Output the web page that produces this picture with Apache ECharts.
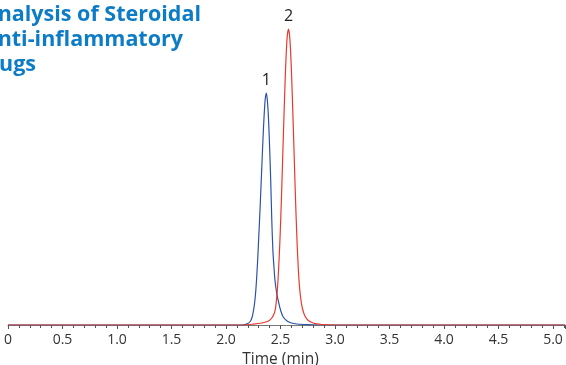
<!DOCTYPE html>
<html>
<head>
    <meta charset="utf-8">
    <title>Steroidal anti-inflammatory drugs</title>
    <script src="https://cdn.jsdelivr.net/npm/echarts@6/dist/echarts.min.js"></script>
    <style>
        html, body { margin: 0; padding: 0; background: #fff; }
    </style>
</head>
<body>
<div id="main" style="width: 566px;height:365px;"></div>
<script type="text/javascript">
    // title lines (left part runs off the page in the original)
    var titleLines = ['Analysis of Steroidal', 'Anti-inflammatory', 'Drugs'];

    // x axis ticks, minutes
    var tickLabels = ['0', '0.5', '1.0', '1.5', '2.0', '2.5', '3.0', '3.5', '4.0', '4.5', '5.0'];

    // peak names
    var peakNames = ['1', '2'];
    var peakTimes = [2.370, 2.573];
    var peakHeights = [232, 296];

    // trace 1 (blue), [time min, signal]
    var trace1 = [
        [0, 0], [2.150, 0], [2.200, 1.5], [2.225, 4], [2.240, 8], [2.250, 13],
        [2.260, 20], [2.270, 30], [2.280, 45], [2.290, 64], [2.300, 87],
        [2.310, 110], [2.320, 136], [2.330, 162], [2.340, 188], [2.350, 210],
        [2.360, 226], [2.370, 232], [2.380, 224], [2.390, 206], [2.400, 178],
        [2.410, 145], [2.420, 105], [2.430, 75], [2.440, 58], [2.450, 44],
        [2.465, 32], [2.480, 24], [2.500, 15], [2.525, 8], [2.560, 4],
        [2.600, 2], [2.650, 1], [2.750, 0.3], [2.850, 0], [5.11, 0]
    ];

    // trace 2 (red)
    var trace2 = [
        [0, 0], [2.150, 0], [2.250, 0.8], [2.330, 2], [2.390, 4], [2.420, 7],
        [2.440, 11], [2.453, 16], [2.463, 25], [2.473, 38], [2.483, 57],
        [2.493, 80], [2.503, 109], [2.513, 142], [2.523, 178], [2.533, 213],
        [2.543, 246], [2.553, 273], [2.563, 290], [2.573, 296], [2.583, 290],
        [2.593, 273], [2.603, 246], [2.613, 213], [2.623, 178], [2.633, 142],
        [2.643, 109], [2.653, 80], [2.663, 57], [2.673, 40], [2.685, 27],
        [2.700, 17], [2.720, 10], [2.750, 5], [2.800, 2], [2.880, 0.5],
        [3.000, 0], [5.11, 0]
    ];

    var myChart = echarts.init(document.getElementById('main'));

    var titleColor = '#0d7cc6';
    var titleRight = [201, 183, 36];
    var titleY = [15, 40, 65];

    function peakMark(i) {
        return {
            symbol: 'circle',
            symbolSize: 0,
            silent: true,
            label: {
                show: true,
                position: 'top',
                distance: 5,
                formatter: peakNames[i],
                fontFamily: 'Open Sans',
                fontSize: 16,
                color: '#222'
            },
            data: [{coord: [peakTimes[i], peakHeights[i]]}]
        };
    }

    var option = {
        animation: false,
        grid: {
            left: 8,
            right: 1,
            top: 25,
            bottom: 40,
            containLabel: false,
            outerBoundsMode: 'none'
        },
        graphic: titleLines.map(function (t, i) {
            return {
                type: 'text',
                silent: true,
                style: {
                    x: titleRight[i],
                    y: titleY[i],
                    text: t,
                    textAlign: 'right',
                    textVerticalAlign: 'middle',
                    fill: titleColor,
                    font: 'bold 21.5px "Open Sans"'
                }
            };
        }),
        xAxis: {
            type: 'value',
            min: 0,
            max: 5.11,
            interval: 0.5,
            name: 'Time (min)',
            nameLocation: 'middle',
            nameGap: 23,
            nameTextStyle: {
                fontFamily: 'Open Sans',
                fontSize: 15.5,
                color: '#333',
                padding: [0, 12, 0, 0]
            },
            axisLine: {
                show: true,
                lineStyle: {color: '#777', width: 1}
            },
            axisTick: {
                show: true,
                length: 4,
                lineStyle: {color: '#555'}
            },
            minorTick: {
                show: true,
                splitNumber: 5,
                length: 3,
                lineStyle: {color: '#555'}
            },
            splitLine: {show: false},
            axisLabel: {
                showMaxLabel: false,
                margin: 8,
                fontFamily: 'Open Sans',
                fontSize: 14,
                color: '#333',
                formatter: function (v) {
                    var k = Math.round(v / 0.5);
                    return tickLabels[k] !== undefined ? tickLabels[k] : '';
                }
            }
        },
        yAxis: {
            type: 'value',
            min: 0,
            max: 300,
            show: false
        },
        series: [
            {
                name: '1',
                type: 'line',
                data: trace1,
                showSymbol: false,
                smooth: 0.3,
                lineStyle: {color: '#2c52a6', width: 1.2},
                itemStyle: {color: '#2c52a6'},
                markPoint: peakMark(0)
            },
            {
                name: '2',
                type: 'line',
                data: trace2,
                showSymbol: false,
                smooth: 0.3,
                lineStyle: {color: '#e8392b', width: 1.2},
                itemStyle: {color: '#e8392b'},
                markPoint: peakMark(1)
            }
        ]
    };

    myChart.setOption(option);
</script>
</body>
</html>
